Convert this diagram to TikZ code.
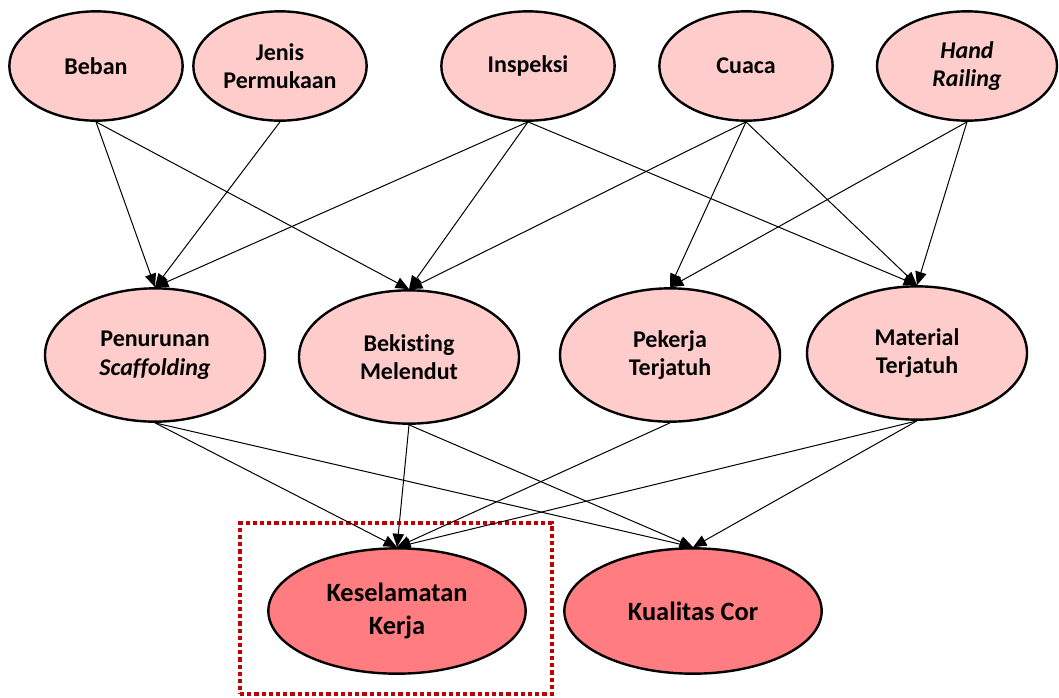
\documentclass[tikz,border=0pt]{standalone}
\usepackage{fontspec}
\setmainfont{Carlito}[Ligatures=NoCommon]
\usetikzlibrary{shapes.geometric,arrows.meta}
\definecolor{softpink}{HTML}{FFCCCC}
\definecolor{salmon}{HTML}{FF7C80}
\definecolor{boxred}{HTML}{C00000}
\begin{document}
\begin{tikzpicture}[x=0.75pt,y=-0.75pt,
  factor/.style={ellipse,draw=black,line width=1.8pt,fill=softpink,inner sep=0pt,
    align=center,font=\fontsize{18}{21.5}\selectfont\bfseries},
  toprow/.style={factor,minimum width=130pt,minimum height=82pt},
  midrow/.style={factor,minimum width=165pt,minimum height=100pt},
  outcome/.style={factor,fill=salmon,minimum width=193pt,minimum height=94pt,
    font=\fontsize{19.8}{25}\selectfont\bfseries},
  link/.style={line width=0.75pt,-{Triangle[length=10pt,width=8.5pt]}},
  focusbox/.style={draw=boxred,line width=3.3pt,dash pattern=on 3.2pt off 2.2pt}]
\useasboundingbox (0,0) rectangle (1059,697);

% top row: influencing conditions
\node[toprow] (beban)    at (96,66)  {Beban};
\node[toprow] (jenis)    at (280,66) {Jenis\\Permukaan};
\node[toprow] (inspeksi) at (528,66) {Inspeksi};
\node[toprow] (cuaca)    at (746,66) {Cuaca};
\node[toprow,minimum width=135pt] (hand) at (967,66) {\itshape Hand\\\itshape Railing};

% middle row: failure events
\node[midrow] (penurunan) at (155,355) {Penurunan\\\itshape Scaffolding};
\node[midrow] (bekisting) at (409,357) {Bekisting\\Melendut};
\node[midrow] (pekerja)   at (670,355) {Pekerja\\Terjatuh};
\node[midrow] (material)  at (917,353) {Material\\Terjatuh};

% bottom row: outcomes
\node[outcome] (k3)  at (397,611) {Keselamatan\\Kerja};
\node[outcome] (cor) at (693,611) {Kualitas Cor};

% highlight frame around the safety outcome
\node[focusbox,inner sep=0pt,minimum width=234pt,minimum height=128pt] (frame) at (396,608.5) {};

% top -> middle
\draw[link] (beban.south) -- (penurunan.north);
\draw[link] (beban.south) -- (bekisting.north);
\draw[link] (jenis.south) -- (penurunan.north);
\draw[link] (inspeksi.south) -- (penurunan.north);
\draw[link] (inspeksi.south) -- (bekisting.north);
\draw[link] (inspeksi.south) -- (material.north);
\draw[link] (cuaca.south) -- (bekisting.north);
\draw[link] (cuaca.south) -- (pekerja.north);
\draw[link] (cuaca.south) -- (material.north);
\draw[link] (hand.south) -- (pekerja.north);
\draw[link] (hand.south) -- (material.north);

% middle -> bottom
\draw[link] (penurunan.south) -- (k3.north);
\draw[link] (penurunan.south) -- (cor.north);
\draw[link] (bekisting.south) -- (k3.north);
\draw[link] (bekisting.south) -- (cor.north);
\draw[link] (pekerja.south) -- (k3.north);
\draw[link] (material.south) -- (k3.north);
\draw[link] (material.south) -- (cor.north);
\end{tikzpicture}
\end{document}
